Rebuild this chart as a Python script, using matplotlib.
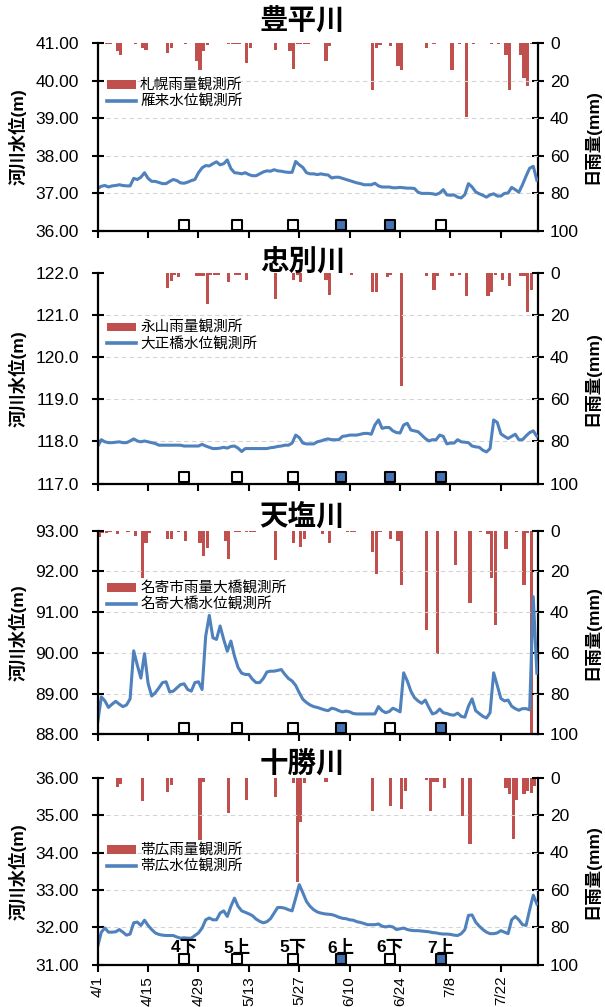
import matplotlib
matplotlib.use('agg')
import matplotlib.pyplot as plt
import matplotlib.transforms as mtransforms
from matplotlib.lines import Line2D
from matplotlib.patches import Patch
from matplotlib.ticker import FormatStrFormatter
import numpy as np

plt.rcParams['font.family'] = ['Liberation Sans', 'Noto Sans CJK JP']

RED = '#C0504D'
BLUE = '#4F81BD'
MARK_BLUE = '#4472B4'

# days since 4/1
DATE_TICKS = [0, 14, 28, 42, 56, 70, 84, 98, 112]
DATE_LABELS = ['4/1', '4/15', '4/29', '5/13', '5/27', '6/10', '6/24', '7/8', '7/22']

SURVEY_DAYS = [24.1, 38.8, 54.3, 67.6, 81.2, 95.4]
SURVEY_LABELS = ['4下', '5上', '5下', '6上', '6下', '7上']

RIVERS = ['豊平川', '忠別川', '天塩川', '十勝川']
RAIN_NAMES = ['札幌雨量観測所', '永山雨量観測所', '名寄市雨量大橋観測所', '帯広雨量観測所']
LEVEL_NAMES = ['雁来水位観測所', '大正橋水位観測所', '名寄大橋水位観測所', '帯広水位観測所']

# ---- 豊平川 ----
TOYOHIRA_LEVEL = [
    37.13, 37.19, 37.21, 37.17, 37.20, 37.21, 37.23, 37.21, 37.20, 37.20,
    37.40, 37.37, 37.43, 37.55, 37.40, 37.32, 37.32, 37.29, 37.26, 37.26,
    37.32, 37.37, 37.34, 37.28, 37.27, 37.30, 37.34, 37.37, 37.55, 37.68,
    37.74, 37.73, 37.79, 37.84, 37.76, 37.79, 37.89, 37.66, 37.55, 37.54,
    37.52, 37.55, 37.50, 37.47, 37.47, 37.52, 37.57, 37.60, 37.59, 37.63,
    37.60, 37.59, 37.57, 37.56, 37.56, 37.85, 37.76, 37.69, 37.55, 37.52,
    37.52, 37.50, 37.52, 37.50, 37.49, 37.41, 37.43, 37.43, 37.40, 37.37,
    37.34, 37.31, 37.28, 37.26, 37.23, 37.23, 37.23, 37.27, 37.20, 37.17,
    37.17, 37.17, 37.15, 37.15, 37.16, 37.15, 37.14, 37.14, 37.13, 37.03,
    37.00, 37.00, 37.00, 36.99, 36.97, 37.01, 37.10, 36.96, 36.95, 36.96,
    36.90, 36.88, 36.97, 37.26, 37.17, 37.04, 36.99, 36.95, 36.90, 36.96,
    36.99, 36.93, 36.93, 37.00, 37.01, 37.16, 37.10, 37.03, 37.23, 37.46,
    37.67, 37.72, 37.35]
TOYOHIRA_RAIN_DAY = [1, 2, 3, 5, 6, 10, 12, 13, 19, 20, 24, 27, 28, 29, 30, 36, 37, 38, 39,
                     41, 42, 49, 53, 54, 55, 56, 57, 58, 63, 64, 76, 77, 78, 81, 83, 84,
                     91, 93, 98, 100, 102, 104, 109, 111, 113, 114, 117, 118, 119, 120]
TOYOHIRA_RAIN_MM = [0.5, 0.5, 0.5, 4.4, 6.6, 0.5, 2.7, 3.9, 5.3, 2.7, 0.5, 9.4, 14.5, 4.4, 0.9,
                    0.5, 0.5, 0.7, 0.5, 10.6, 2.7, 3.9, 4.4, 13.8, 0.5, 0.5, 0.5, 0.5, 9.4, 1.8,
                    24.8, 2.7, 0.9, 1.8, 12.4, 14.5, 2.7, 0.5, 14.5, 0.5, 39.5, 0.5, 0.5, 0.5,
                    6.2, 24.8, 6.2, 18.6, 22.7, 0.5]
TOYOHIRA_FILLED = [0, 0, 0, 1, 1, 0]

# ---- 忠別川 ----
CHUBETSU_LEVEL = [
    117.88, 118.04, 117.99, 117.97, 117.97, 117.98, 117.99, 117.97, 117.97, 118.01,
    118.06, 118.01, 117.99, 118.01, 117.99, 117.97, 117.95, 117.91, 117.91, 117.91,
    117.91, 117.91, 117.91, 117.91, 117.89, 117.89, 117.89, 117.89, 117.89, 117.93,
    117.89, 117.86, 117.83, 117.83, 117.84, 117.86, 117.84, 117.88, 117.89, 117.84,
    117.76, 117.83, 117.83, 117.83, 117.83, 117.83, 117.83, 117.83, 117.85, 117.86,
    117.88, 117.89, 117.91, 117.91, 117.96, 118.15, 118.09, 117.96, 117.94, 117.94,
    117.94, 117.99, 118.01, 118.04, 118.06, 118.04, 118.04, 118.04, 118.12, 118.13,
    118.15, 118.15, 118.15, 118.17, 118.19, 118.19, 118.17, 118.39, 118.51, 118.31,
    118.33, 118.33, 118.25, 118.21, 118.20, 118.39, 118.43, 118.27, 118.25, 118.23,
    118.15, 118.07, 118.01, 118.04, 118.04, 118.15, 118.12, 117.94, 117.96, 117.96,
    118.04, 117.99, 117.98, 117.97, 117.89, 117.87, 117.86, 117.79, 117.75, 117.83,
    118.51, 118.45, 118.18, 118.12, 118.07, 118.12, 118.17, 118.04, 118.04, 118.13,
    118.21, 118.25, 118.12]
CHUBETSU_RAIN_DAY = [19, 20, 21, 22, 27, 28, 29, 30, 31, 32, 33, 36, 38, 39, 41, 49, 54, 55, 56,
                     63, 64, 70, 76, 77, 80, 81, 84, 91, 93, 94, 98, 100, 102, 108, 109, 110,
                     112, 114, 117, 118, 119, 120]
CHUBETSU_RAIN_MM = [7.1, 4.0, 0.8, 2.1, 1.6, 1.6, 1.6, 14.6, 0.8, 0.8, 0.8, 4.3, 0.8, 0.8, 3.2,
                    12.2, 3.2, 0.8, 4.3, 3.2, 10.3, 0.8, 9.0, 9.0, 2.1, 1.0, 53.5, 1.6, 8.3, 1.6,
                    1.6, 1.0, 11.1, 11.1, 9.0, 0.8, 3.2, 6.3, 1.6, 1.6, 18.6, 7.9]
CHUBETSU_FILLED = [0, 0, 0, 1, 1, 1]

# ---- 天塩川 ----
TESHIO_LEVEL = [
    88.29, 88.92, 88.82, 88.66, 88.74, 88.81, 88.74, 88.68, 88.72, 88.87,
    90.05, 89.70, 89.38, 89.98, 89.25, 88.94, 89.02, 89.14, 89.27, 89.29,
    89.04, 89.06, 89.14, 89.22, 89.24, 89.10, 89.06, 89.27, 89.29, 89.10,
    90.41, 90.92, 90.37, 90.33, 90.66, 90.33, 90.04, 90.29, 89.92, 89.64,
    89.50, 89.47, 89.47, 89.35, 89.27, 89.27, 89.37, 89.53, 89.55, 89.55,
    89.57, 89.59, 89.47, 89.37, 89.31, 89.20, 89.02, 88.86, 88.78, 88.72,
    88.68, 88.66, 88.63, 88.60, 88.58, 88.64, 88.62, 88.58, 88.55, 88.57,
    88.55, 88.51, 88.50, 88.50, 88.50, 88.50, 88.50, 88.50, 88.68, 88.58,
    88.53, 88.56, 88.64, 88.60, 88.55, 89.51, 89.31, 89.06, 88.90, 88.82,
    88.76, 88.84, 88.66, 88.50, 88.53, 88.62, 88.53, 88.51, 88.48, 88.47,
    88.52, 88.44, 88.42, 88.69, 88.87, 88.58, 88.51, 88.44, 88.40, 88.53,
    89.51, 89.20, 88.88, 88.82, 88.84, 88.69, 88.63, 88.59, 88.63, 88.63,
    88.60, 91.38, 89.50]
TESHIO_RAIN_DAY = [0, 1, 2, 3, 5, 8, 10, 12, 13, 14, 19, 20, 22, 24, 28, 29, 30, 35, 36, 38,
                   39, 41, 42, 43, 49, 54, 56, 57, 62, 64, 69, 70, 71, 76, 77, 78, 81, 83, 84,
                   91, 94, 99, 103, 106, 108, 109, 110, 113, 116, 118, 119, 120]
TESHIO_RAIN_MM = [3.0, 1.0, 1.0, 0.8, 1.8, 0.8, 2.6, 23.0, 5.9, 1.3, 3.9, 3.9, 0.8, 5.1, 5.9,
                  12.4, 8.3, 5.1, 13.7, 0.8, 0.8, 0.8, 0.8, 0.8, 14.6, 5.9, 7.9, 3.9, 1.8, 5.9,
                  0.8, 0.8, 0.8, 10.5, 21.1, 0.8, 3.9, 5.1, 26.8, 48.8, 60.7, 16.9, 35.7, 0.8,
                  1.8, 23.0, 46.5, 9.2, 0.8, 26.8, 1.3, 100.0]
TESHIO_FILLED = [0, 0, 0, 1, 0, 1]

# ---- 十勝川 ----
TOKACHI_LEVEL = [
    31.49, 31.87, 31.98, 31.87, 31.87, 31.88, 31.94, 31.87, 31.79, 31.82,
    32.12, 32.14, 32.05, 32.19, 32.05, 31.94, 31.85, 31.81, 31.79, 31.78,
    31.78, 31.78, 31.74, 31.71, 31.72, 31.71, 31.71, 31.78, 31.85, 31.98,
    32.20, 32.25, 32.20, 32.20, 32.38, 32.44, 32.29, 32.56, 32.78, 32.56,
    32.44, 32.40, 32.36, 32.31, 32.22, 32.16, 32.12, 32.15, 32.23, 32.38,
    32.53, 32.53, 32.51, 32.47, 32.44, 32.78, 33.14, 32.92, 32.69, 32.56,
    32.47, 32.41, 32.38, 32.36, 32.35, 32.34, 32.31, 32.27, 32.24, 32.23,
    32.20, 32.19, 32.15, 32.13, 32.10, 32.07, 32.07, 32.07, 32.09, 32.03,
    32.01, 32.03, 32.01, 31.94, 31.96, 31.98, 31.94, 31.92, 31.91, 31.91,
    31.90, 31.89, 31.88, 31.86, 31.85, 31.83, 31.82, 31.82, 31.81, 31.79,
    31.78, 31.83, 31.94, 32.32, 32.33, 32.14, 32.03, 31.94, 31.87, 31.83,
    31.83, 31.85, 31.91, 31.87, 31.83, 32.20, 32.29, 32.20, 32.07, 32.05,
    32.47, 32.86, 32.62]
TOKACHI_RAIN_DAY = [5, 6, 12, 19, 20, 28, 29, 36, 41, 49, 54, 55, 56, 57, 63, 76, 81, 84, 85,
                    91, 92, 93, 94, 96, 101, 103, 113, 114, 115, 116, 118, 119, 120, 121]
TOKACHI_RAIN_MM = [5.0, 3.2, 12.7, 7.7, 3.7, 33.2, 2.5, 18.9, 11.8, 10.5, 2.9, 56.0, 23.9, 2.9,
                   2.5, 18.0, 15.0, 16.6, 7.3, 1.4, 18.0, 2.5, 2.5, 5.5, 20.7, 35.3, 5.5, 8.7,
                   32.8, 11.8, 8.6, 7.3, 8.2, 4.6]
TOKACHI_FILLED = [0, 0, 0, 1, 0, 1]

LEVELS = [TOYOHIRA_LEVEL, CHUBETSU_LEVEL, TESHIO_LEVEL, TOKACHI_LEVEL]
RAIN_DAYS = [TOYOHIRA_RAIN_DAY, CHUBETSU_RAIN_DAY, TESHIO_RAIN_DAY, TOKACHI_RAIN_DAY]
RAIN_MMS = [TOYOHIRA_RAIN_MM, CHUBETSU_RAIN_MM, TESHIO_RAIN_MM, TOKACHI_RAIN_MM]
FILLED = [TOYOHIRA_FILLED, CHUBETSU_FILLED, TESHIO_FILLED, TOKACHI_FILLED]
YLIMS = [(36, 41), (117, 122), (88, 93), (31, 36)]
YFMT = ['%.2f', '%.1f', '%.2f', '%.2f']

# layout in pixels
W, H = 605, 1007
LEFT, RIGHT = 97.7, 538.3
PANEL_PX = [(43, 231), (273, 483.5), (530.7, 734.3), (777.7, 964.7)]
TITLE_PX = [22, 262, 517, 764]
LEGEND_Y = [0.731, 0.70, 0.677, 0.566]


def main():
    fig = plt.figure(figsize=(W / 100, H / 100), dpi=100)
    for i in range(4):
        top, bot = PANEL_PX[i]
        ax = fig.add_axes([LEFT / W, 1 - bot / H, (RIGHT - LEFT) / W, (bot - top) / H])
        twin = ax.twinx()

        # rain bars hanging from the top
        twin.bar(RAIN_DAYS[i], RAIN_MMS[i], width=0.85, align='edge',
                 color=RED, linewidth=0)
        twin.set_ylim(100, 0)
        twin.set_yticks([0, 20, 40, 60, 80, 100])

        ax.set_zorder(twin.get_zorder() + 1)
        ax.patch.set_visible(False)

        days = np.arange(len(LEVELS[i]))
        ax.plot(days, LEVELS[i], color=BLUE, lw=2.2, solid_joinstyle='round')

        lo, hi = YLIMS[i]
        ax.set_ylim(lo, hi)
        ax.set_yticks(np.arange(lo, hi + 0.5, 1))
        ax.yaxis.set_major_formatter(FormatStrFormatter(YFMT[i]))
        ax.set_xlim(0, 122.4)
        ax.set_xticks(DATE_TICKS)

        ax.grid(axis='y', color='#d4d4d4', ls=(0, (4, 3)), lw=0.8)
        gls = ax.get_ygridlines()
        gls[0].set_visible(False)
        gls[-1].set_visible(False)

        for a in (ax, twin):
            a.spines['top'].set_visible(False)
            for s in a.spines.values():
                s.set_linewidth(1.6)
                s.set_color('black')
        ax.spines['right'].set_visible(False)
        twin.spines['left'].set_visible(False)
        twin.spines['bottom'].set_visible(False)

        ax.tick_params(axis='y', direction='inout', length=9, width=1.5, pad=9, labelsize=12.5)
        twin.tick_params(axis='y', direction='inout', length=9, width=1.5, pad=4, labelsize=12.5)
        ax.tick_params(axis='x', direction='out', length=5, width=1.5)
        if i < 3:
            ax.tick_params(labelbottom=False)
        else:
            ax.set_xticklabels(DATE_LABELS, rotation=90, fontsize=11)
            ax.tick_params(axis='x', pad=3)

        ax.set_ylabel('河川水位(m)', fontsize=12.5, fontweight='bold')
        ax.yaxis.label.set_verticalalignment('center')
        ax.yaxis.set_label_coords(-0.183, 0.5)
        twin.set_ylabel('日雨量(mm)', fontsize=12.5, fontweight='bold')
        twin.yaxis.label.set_verticalalignment('center')
        twin.yaxis.set_label_coords(1.122, 0.5)

        # survey markers near the bottom
        trans = mtransforms.blended_transform_factory(ax.transData, ax.transAxes)
        faces = [MARK_BLUE if f else 'white' for f in FILLED[i]]
        ax.scatter(SURVEY_DAYS, [0.03] * len(SURVEY_DAYS), transform=trans, marker='s',
                   s=52, facecolors=faces, edgecolors='black', linewidths=1.5,
                   clip_on=False, zorder=6)
        if i == 3:
            for d, lab in zip(SURVEY_DAYS, SURVEY_LABELS):
                ax.text(d, 0.09, lab, transform=trans, ha='center', va='center',
                        fontsize=12.5, fontweight='bold', zorder=7)

        handles = [Patch(facecolor=RED, edgecolor='none'),
                   Line2D([], [], color=BLUE, lw=2.6)]
        ax.legend(handles, [RAIN_NAMES[i], LEVEL_NAMES[i]], loc='center left',
                  bbox_to_anchor=(0.02, LEGEND_Y[i]), frameon=False, fontsize=10.5,
                  handlelength=2.0, handleheight=0.55, handletextpad=0.3,
                  labelspacing=0.15, borderpad=0, borderaxespad=0)

        fig.text(0.5, 1 - TITLE_PX[i] / H, RIVERS[i], ha='center', va='center',
                 fontsize=20.5, fontweight='bold')

    fig.savefig('out.png', dpi=100)


if __name__ == '__main__':
    main()
